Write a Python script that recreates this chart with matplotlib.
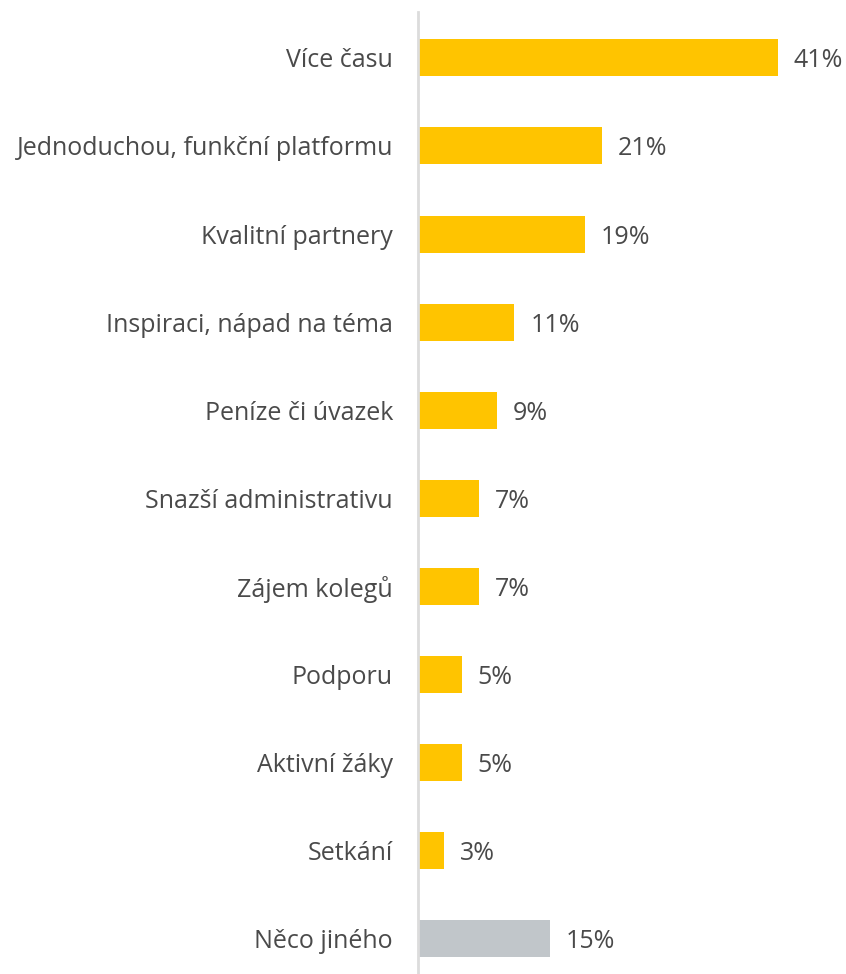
import matplotlib.pyplot as plt

categories = ['Více času', 'Jednoduchou, funkční platformu', 'Kvalitní partnery',
              'Inspiraci, nápad na téma', 'Peníze či úvazek', 'Snazší administrativu',
              'Zájem kolegů', 'Podporu', 'Aktivní žáky', 'Setkání', 'Něco jiného']
values = [41, 21, 19, 11, 9, 7, 7, 5, 5, 3, 15]
colors = ['#FFC400'] * 10 + ['#C1C6CA']

plt.rcParams['font.family'] = ['Open Sans', 'DejaVu Sans']

fig = plt.figure(figsize=(8.46, 9.74), dpi=100)
ax = fig.add_axes([418 / 846, 0, 1 - 418 / 846, 1 - 12 / 974])

y = range(len(categories))
ax.barh(y, values, height=0.42, color=colors)
ax.set_xlim(0, 48.8)
ax.set_ylim(10.4, -0.52)

for i, v in enumerate(values):
    ax.text(v + 1.8, i, f'{v}%', va='center_baseline', ha='left', fontsize=18, color='#4a4a4a')

ax.set_yticks(list(y))
ax.set_yticklabels(categories, fontsize=18, color='#4a4a4a')
ax.tick_params(axis='y', length=0, pad=18)
ax.set_xticks([])
for s in ['top', 'right', 'bottom']:
    ax.spines[s].set_visible(False)
ax.spines['left'].set_color('#dcdcdc')
ax.spines['left'].set_linewidth(2)

fig.savefig('out.png', dpi=100)
